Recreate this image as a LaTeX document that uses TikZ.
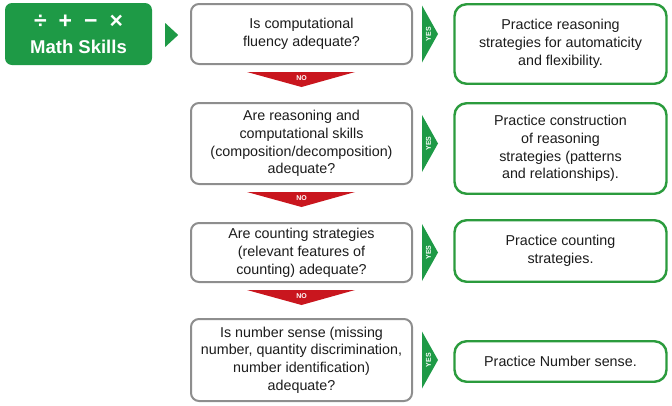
\documentclass[tikz,border=0pt]{standalone}
\usepackage{fontspec}
\setmainfont{Liberation Sans}
\usetikzlibrary{positioning,calc}
\definecolor{skillgreen}{HTML}{1E9A46}
\definecolor{boxgreen}{HTML}{2B9B3D}
\definecolor{nored}{HTML}{C9161E}
\definecolor{qgray}{HTML}{8E8E8E}
\definecolor{txt}{HTML}{1C1C1C}
\newcommand{\qfont}{\fontsize{14.3}{17.8}\selectfont}
\newcommand{\opsfont}{\fontsize{23}{23}\selectfont}
\tikzset{
  question/.style={draw=qgray,line width=2pt,rounded corners=8pt,fill=white,
    minimum width=221pt,inner sep=2pt,align=center,text=txt,font=\qfont},
  answer/.style={draw=boxgreen,line width=2.4pt,rounded corners=12pt,fill=white,
    minimum width=212pt,inner sep=2pt,align=center,text=txt,font=\qfont},
  skills/.style={fill=skillgreen,rounded corners=7pt,minimum width=147pt,
    minimum height=62pt,align=center,text=white,
    font=\bfseries\fontsize{18.5}{25}\selectfont},
  tag/.style={text=white,font=\bfseries\fontsize{7}{7}\selectfont,inner sep=0pt}
}

\begin{document}
\begin{tikzpicture}[x=1pt,y=-1pt]
\useasboundingbox (0,0) rectangle (672,405);
% start
\node[skills] (math) at (78.5,34) {{\opsfont÷\hspace{12pt}+\hspace{12pt}−\hspace{12pt}×}\\Math Skills};
\fill[skillgreen] ($(math.east)+(13,-11)$) -- ($(math.east)+(26,1)$) -- ($(math.east)+(13,13)$) -- cycle;
% questions
\node[question,minimum height=60pt] (q1) at (301.5,34) {Is computational\\fluency adequate?};
\node[question,minimum height=81pt] (q2) at (301.5,143.5) {Are reasoning and\\computational skills\\(composition/decomposition)\\adequate?};
\node[question,minimum height=59pt] (q3) at (301.5,252.5) {Are counting strategies\\(relevant features of\\counting) adequate?};
\node[question,minimum height=82pt] (q4) at (301.5,360) {Is number sense (missing\\number, quantity discrimination,\\number identification)\\adequate?};
% answers
\node[answer,minimum height=79.5pt] (a1) at (560.5,44) {Practice reasoning\\strategies for automaticity\\and flexibility.};
\node[answer,minimum height=90.5pt] (a2) at (560.5,148.5) {Practice construction\\of reasoning\\strategies (patterns\\and relationships).};
\node[answer,minimum height=61.5pt] (a3) at (560.5,251) {Practice counting\\strategies.};
\node[answer,minimum height=40.5pt] (a4) at (560.5,361.5) {Practice Number sense.};
% yes arrows
\foreach \q in {q1,q2,q3,q4} {
  \fill[skillgreen] ($(\q.east)+(9,-28.5)$) -- ($(\q.east)+(25,0)$) -- ($(\q.east)+(9,28.5)$) -- cycle;
  \node[tag,rotate=90] (yes\q) at ($(\q.east)+(15.5,0)$) {YES};
}
% no arrows
\foreach \q in {q1,q2,q3} {
  \fill[nored] ($(\q.south)+(-54.5,7)$) -- ($(\q.south)+(53.5,7)$) -- ($(\q.south)+(0,22)$) -- cycle;
  \node[tag] (no\q) at ($(\q.south)+(0,13)$) {NO};
}
\end{tikzpicture}
\end{document}
